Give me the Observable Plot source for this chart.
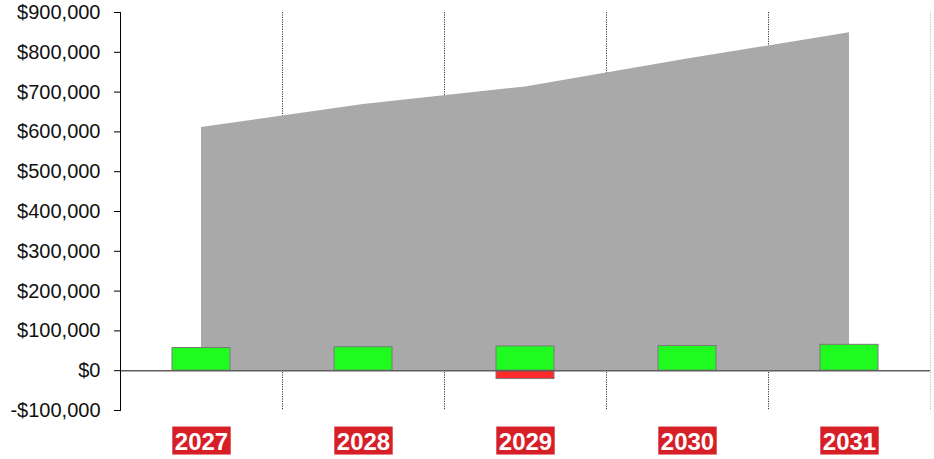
<!DOCTYPE html>
<html>
<head>
<meta charset="utf-8">
<script src="https://cdn.jsdelivr.net/npm/d3@7"></script>
<script src="https://cdn.jsdelivr.net/npm/@observablehq/plot@0.6"></script>
<style>
  html, body { margin: 0; padding: 0; background: #fff; }
  #chart svg { display: block; }
</style>
</head>
<body>
<div id="chart"></div>
<script>
const years = ["2027", "2028", "2029", "2030", "2031"];
const totals = [611000, 669000, 713000, 783000, 849000];
const gains = [57000, 59000, 61000, 62000, 65000];
const losses = [0, 0, -21000, 0, 0];
const yTicks = [-100000, 0, 100000, 200000, 300000, 400000, 500000, 600000, 700000, 800000, 900000];

const rows = years.map((y, i) => ({year: y, total: totals[i], gain: gains[i], loss: losses[i]}));

const W = 934, H = 459;
const mL = 120, mR = 4, mT = 12, mB = 49;
const step = (W - mL - mR) / years.length;

const fmt = d => (d < 0 ? "-" : "") + "$" + d3.format(",")(Math.abs(d));

const chart = Plot.plot({
  width: W,
  height: H,
  marginLeft: mL,
  marginRight: mR,
  marginTop: mT,
  marginBottom: mB,
  style: {fontFamily: "'Liberation Sans', Arial, sans-serif", background: "#fff", color: "#111", fontSize: "20px"},
  x: {domain: years, paddingInner: 0.642, paddingOuter: 0.321, align: 0.5, axis: null, label: null},
  y: {domain: [-100000, 900000], label: null},
  marks: [
    Plot.ruleX(years, {
      x: d => d, dx: step / 2,
      stroke: d => d === years[years.length - 1] ? "#bdbdbd" : "#3a3a3a",
      strokeDasharray: "1.2,1.2", strokeWidth: 1
    }),
    Plot.areaY(rows, {x: "year", y1: 0, y2: "total", fill: "#a9a9a9", curve: "linear"}),
    Plot.barY(rows.filter(d => d.loss !== 0), {x: "year", y1: 0, y2: "loss", fill: "#ff2a2a", stroke: "#7a7a7a", strokeWidth: 1}),
    Plot.barY(rows, {x: "year", y1: 0, y2: "gain", fill: "#1ffb1f", stroke: "#7a7a7a", strokeWidth: 1}),
    Plot.ruleY([0], {stroke: "#5e5e5e", strokeWidth: 1.5}),
    Plot.frame({anchor: "left", stroke: "#000"}),
    Plot.axisY({ticks: yTicks, tickFormat: fmt, tickSize: 6, tickPadding: 14, fontSize: 20, stroke: "#000", fill: "#111", label: null}),
    Plot.text(years, {
      x: d => d, text: d => d, frameAnchor: "bottom", lineAnchor: "top", dy: 22,
      fontSize: 24, fontWeight: "bold", fill: "#fff"
    })
  ]
});

document.getElementById("chart").append(chart);

// red backgrounds behind the year labels
d3.select(chart).selectAll("text")
  .filter(function() { return years.includes(this.textContent); })
  .each(function() {
    const b = this.getBBox();
    const rect = document.createElementNS("http://www.w3.org/2000/svg", "rect");
    rect.setAttribute("x", b.x - 2.5);
    rect.setAttribute("y", b.y - 1);
    rect.setAttribute("width", b.width + 5);
    rect.setAttribute("height", b.height + 1);
    rect.setAttribute("fill", "#d71f28");
    const t = this.getAttribute("transform");
    if (t) rect.setAttribute("transform", t);
    this.parentNode.insertBefore(rect, this);
  });
</script>
</body>
</html>
